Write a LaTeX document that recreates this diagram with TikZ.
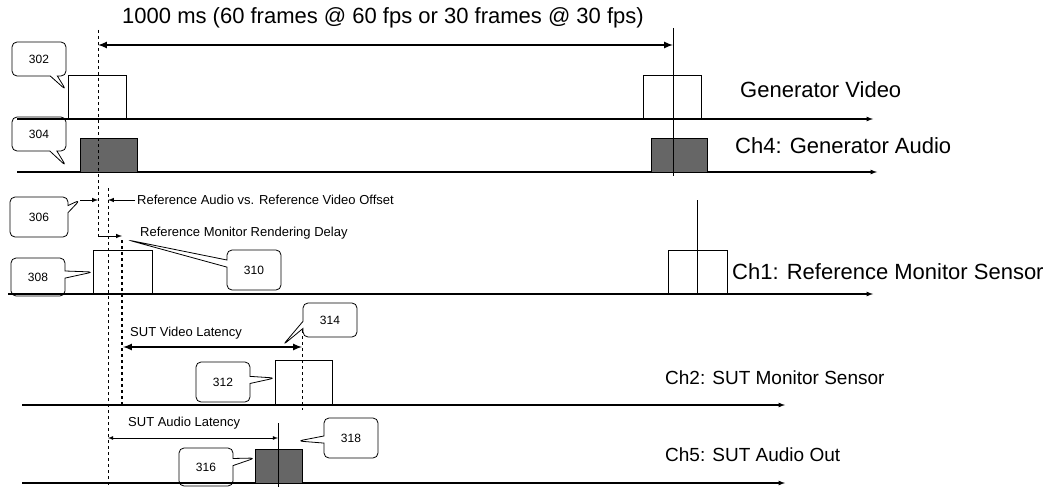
\documentclass[tikz,border=0pt]{standalone}
\usepackage{fontspec}
\setmainfont{Liberation Sans}
\usetikzlibrary{shapes.callouts}

\tikzset{
  tag/.style={rectangle callout, draw, rounded corners=5pt, minimum width=54pt,
    minimum height=34pt, inner sep=0pt, line width=0.8pt,
    font={\fontsize{12}{12}\selectfont}},
  chan/.style={anchor=west, inner sep=0pt, font={\fontsize{22}{24}\selectfont}},
  sutchan/.style={chan, font={\fontsize{19}{22}\selectfont}},
  note/.style={anchor=west, inner sep=0pt, font={\fontsize{13}{15}\selectfont}},
  pulse/.style={draw, line width=1pt},
  audio/.style={draw, line width=1pt, fill=black!60},
}

\begin{document}
\begin{tikzpicture}[x=1pt, y=-1pt, > = latex]
	\useasboundingbox (0,0) rectangle (1055,487);
	% time axes of the five channels
	\foreach \y/\a/\b in {119/17/873, 172/17/877, 294/8/873, 405/22/785, 483/22/785}
	\draw [->, line width = 1.2] (\a,\y) -- (\b,\y);
	% pulses
	\draw [pulse] (68,119) rectangle (126,76);
	\draw [pulse] (643,119) rectangle (701,76);
	\draw [audio] (80,172) rectangle (137,138);
	\draw [audio] (651,172) rectangle (707,138);
	\draw [pulse] (93,294) rectangle (152,250);
	\draw [pulse] (668,294) rectangle (727,250);
	\draw [pulse] (275,405) rectangle (332,360);
	\draw [audio] (255,483) rectangle (302,449);
	% reference marks
	\draw [dashed, line width = 1] (98,30) -- (98,236);
	\draw [dashed, line width = 0.8] (108,188) -- (108,487);
	\draw [dashed, line width = 1.5] (122,240) -- (122,405);
	\draw [line width = 1] (673,28) -- (673,176);
	\draw [line width = 1] (697,200) -- (697,294);
	\draw [dashed, line width = 1] (302,330) -- (302,410);
	\draw [line width = 1] (278,423) -- (278,487);
	% period
	\node [font={\fontsize{22}{24}\selectfont}] (period) at (383,18) {1000 ms (60 frames @ 60 fps or 30 frames @ 30 fps)};
	\draw [<->, line width = 2] (98,45) -- (673,45);
	% offsets and latencies
	\coordinate (offL) at (80,200);
	\coordinate (offR) at (135,200);
	\draw [->, line width = 1] (offL) -- (98,200);
	\draw [->, line width = 1] (offR) -- (108,200);
	\node [note] (offset) at (137,200) {Reference Audio vs. Reference Video Offset};
	\coordinate (delay) at (122,236);
	\draw [->, line width = 1] (98,236) -- (delay);
	\node [note] (render) at (140,233) {Reference Monitor Rendering Delay};
	\node [note] (vlat) at (130,333) {SUT Video Latency};
	\draw [<->, line width = 2] (123,347) -- (302,347);
	\node [note] (alat) at (128,423) {SUT Audio Latency};
	\draw [<->, line width = 0.8] (108,438) -- (278,438);
	% channel names
	\node [chan] (genv) at (740,90) {Generator Video};
	\node [chan] (gena) at (735,146) {Ch4: Generator Audio};
	\node [chan] (refm) at (732,272) {Ch1: Reference Monitor Sensor};
	\node [sutchan] (sutm) at (665,378) {Ch2: SUT Monitor Sensor};
	\node [sutchan] (suta) at (665,455) {Ch5: SUT Audio Out};
	% reference numbers
	\coordinate (p302) at (66,90);
	\coordinate (p304) at (66,166);
	\coordinate (p308) at (93,272);
	\coordinate (p310) at (128,240);
	\coordinate (p314) at (283,345);
	\coordinate (p312) at (275,378);
	\coordinate (p318) at (298,441);
	\coordinate (p316) at (255,458);
	\node [tag, callout absolute pointer=(p302)] (t302) at (39,59) {302};
	\node [tag, callout absolute pointer=(p304)] (t304) at (39,134) {304};
	\node [tag, callout absolute pointer=(offL), minimum width=58pt, minimum height=40pt] (t306) at (39,217) {306};
	\node [tag, callout absolute pointer=(p308), minimum height=38pt] (t308) at (38,277) {308};
	\node [tag, callout absolute pointer=(p310), minimum height=40pt] (t310) at (254,270) {310};
	\node [tag, callout absolute pointer=(p314)] (t314) at (330,320) {314};
	\node [tag, callout absolute pointer=(p312), minimum height=40pt] (t312) at (223,382) {312};
	\node [tag, callout absolute pointer=(p318), minimum height=40pt] (t318) at (351,438) {318};
	\node [tag, callout absolute pointer=(p316), minimum height=38pt] (t316) at (206,467) {316};
\end{tikzpicture}
\end{document}
